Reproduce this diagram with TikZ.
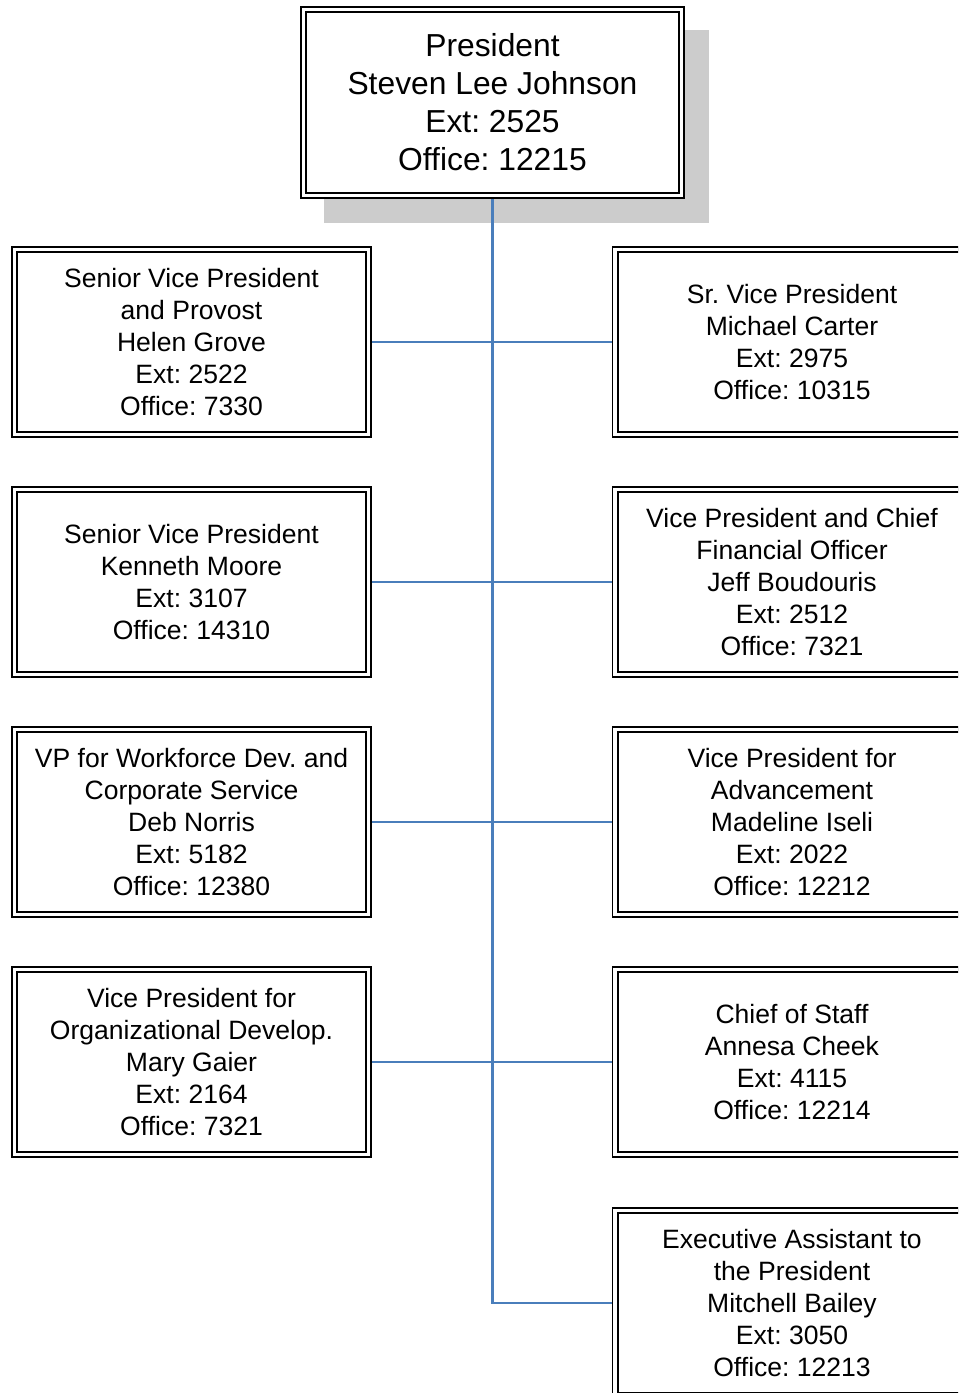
\documentclass[tikz,border=0pt]{standalone}
\usepackage{fontspec}
\setmainfont{Liberation Sans}
\usetikzlibrary{calc, backgrounds}

\definecolor{linkblue}{HTML}{4A7EBB}
\definecolor{shadowgray}{HTML}{CCCCCC}

\frenchspacing

\tikzset{
	officer/.style={draw, double, line width=1pt, double distance=2pt, fill=white,
		align=center, inner sep=0pt, outer sep=0pt,
		minimum width=7.08cm, minimum height=3.7cm,
		font=\fontsize{15.1}{18.2}\selectfont},
	chief/.style={officer, minimum width=7.56cm, minimum height=3.72cm,
		font=\fontsize{18.1}{21.6}\selectfont},
	link/.style={draw=linkblue, line width=1.3pt}
}

\begin{document}
\begin{tikzpicture}[x=0.02cm, y=-0.02cm]
		\useasboundingbox (0,0) rectangle (958,1393);
		\clip (0,0) rectangle (958,1393);
		
		\begin{scope}
			\node [chief] (pres) at (492.5,102.5) {President\\Steven Lee Johnson\\Ext: 2525\\Office: 12215};
		\end{scope}
		
		\begin{scope}
			\node [officer] (grove) at (191.5,342) {Senior Vice President\\and Provost\\Helen Grove\\Ext: 2522\\Office: 7330};
			\node [officer] (moore) at (191.5,582) {Senior Vice President\\Kenneth Moore\\Ext: 3107\\Office: 14310};
			\node [officer] (norris) at (191.5,822) {VP for Workforce Dev. and\\Corporate Service\\Deb Norris\\Ext: 5182\\Office: 12380};
			\node [officer] (gaier) at (191.5,1062) {Vice President for\\Organizational Develop.\\Mary Gaier\\Ext: 2164\\Office: 7321};
		\end{scope}
		
		\begin{scope}
			\node [officer] (carter) at (792,342) {Sr. Vice President\\Michael Carter\\Ext: 2975\\Office: 10315};
			\node [officer] (boudouris) at (792,582) {Vice President and Chief\\Financial Officer\\Jeff Boudouris\\Ext: 2512\\Office: 7321};
			\node [officer] (iseli) at (792,822) {Vice President for\\Advancement\\Madeline Iseli\\Ext: 2022\\Office: 12212};
			\node [officer] (cheek) at (792,1062) {Chief of Staff\\Annesa Cheek\\Ext: 4115\\Office: 12214};
			\node [officer] (bailey) at (792,1303) {Executive Assistant to\\the President\\Mitchell Bailey\\Ext: 3050\\Office: 12213};
		\end{scope}
		
		\begin{scope}[on background layer]
			\fill [shadowgray] ($(pres.north west)+(20,20)$) rectangle ($(pres.south east)+(28,28)$);
			\coordinate (trunk) at (pres.south |- bailey.west);
			\draw [link] (pres.south) -- (trunk) -- (bailey.west);
			\draw [link] (grove.east) -- (carter.west);
			\draw [link] (moore.east) -- (boudouris.west);
			\draw [link] (norris.east) -- (iseli.west);
			\draw [link] (gaier.east) -- (cheek.west);
		\end{scope}
	\end{tikzpicture}
\end{document}
